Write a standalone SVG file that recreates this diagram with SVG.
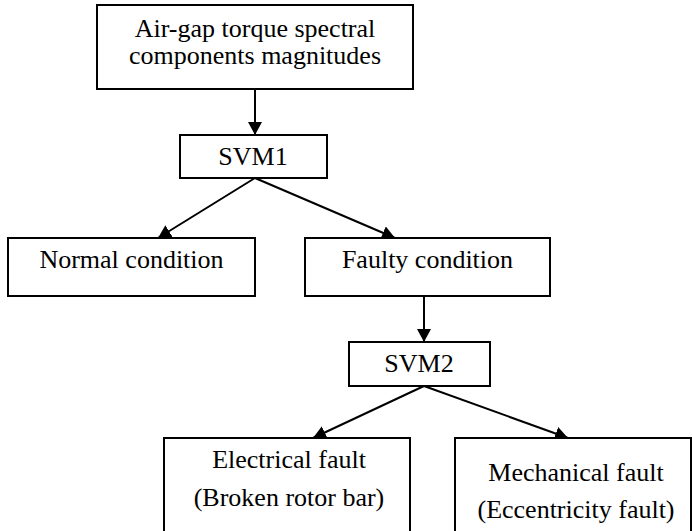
<svg xmlns="http://www.w3.org/2000/svg" width="692" height="531" viewBox="0 0 692 531">
  <style>
    .box { fill: #ffffff; stroke: #000000; stroke-width: 2; }
    .lbl { font-family: "Liberation Serif", "Times New Roman", serif; font-size: 26px; fill: #000000; text-anchor: middle; }
    .edge { stroke: #000000; stroke-width: 2; fill: none; marker-end: url(#arrow); }
  </style>
  <defs>
    <marker id="arrow" markerUnits="userSpaceOnUse" markerWidth="16" markerHeight="16" refX="13" refY="7" orient="auto">
      <path d="M0,0 L13,7 L0,14 Z" fill="#000000"/>
    </marker>
  </defs>
  <rect width="692" height="531" fill="#ffffff"/>

  <g id="connectors">
    <line class="edge" x1="255" y1="89" x2="255" y2="135"/>
    <line class="edge" x1="255" y1="178" x2="158" y2="238"/>
    <line class="edge" x1="255" y1="178" x2="395" y2="238"/>
    <line class="edge" x1="424" y1="296" x2="424" y2="342"/>
    <line class="edge" x1="424" y1="386" x2="313" y2="438"/>
    <line class="edge" x1="424" y1="386" x2="568" y2="438"/>
  </g>

  <g id="torque-input">
    <rect class="box" x="97" y="5" width="316" height="84"/>
    <text class="lbl" x="255" y="37">Air-gap torque spectral</text>
    <text class="lbl" x="255" y="64">components magnitudes</text>
  </g>

  <g id="svm1">
    <rect class="box" x="180" y="135" width="147" height="43"/>
    <text class="lbl" x="253" y="165">SVM1</text>
  </g>

  <g id="normal">
    <rect class="box" x="8" y="238" width="247" height="58"/>
    <text class="lbl" x="131.5" y="268">Normal condition</text>
  </g>

  <g id="faulty">
    <rect class="box" x="305" y="238" width="245" height="58"/>
    <text class="lbl" x="427.5" y="268">Faulty condition</text>
  </g>

  <g id="svm2">
    <rect class="box" x="349" y="342" width="141" height="44"/>
    <text class="lbl" x="419" y="372">SVM2</text>
  </g>

  <g id="electrical">
    <rect class="box" x="164" y="438" width="246" height="100"/>
    <text class="lbl" x="289" y="468">Electrical fault</text>
    <text class="lbl" x="289" y="506">(Broken rotor bar)</text>
  </g>

  <g id="mechanical">
    <rect class="box" x="455" y="438" width="236" height="100"/>
    <text class="lbl" x="576" y="481">Mechanical fault</text>
    <text class="lbl" x="576" y="518">(Eccentricity fault)</text>
  </g>
</svg>
